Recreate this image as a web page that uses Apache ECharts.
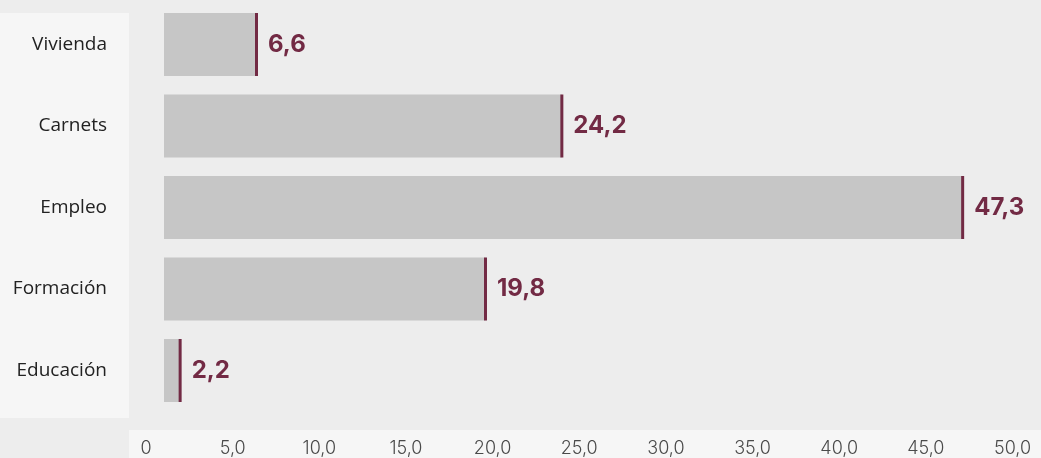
<!DOCTYPE html>
<html>
<head>
<meta charset="utf-8">
<script src="https://cdn.jsdelivr.net/npm/echarts@6/dist/echarts.min.js"></script>
<style>html,body{margin:0;padding:0;background:#ededed;}#c{width:1041px;height:458px;}</style>
</head>
<body>
<div id="c"></div>
<script>
var categories = ['Vivienda', 'Carnets', 'Empleo', 'Formación', 'Educación'];
var values = [6.6, 24.2, 47.3, 19.8, 2.2];
var tickMin = 0, tickMax = 50, tickStep = 5;

function fmt(v) { return v === 0 ? '0' : v.toFixed(1).replace('.', ','); }

var chart = echarts.init(document.getElementById('c'), null, {renderer: 'canvas'});
var gridTop = 3.75, gridBottom = 46.75, gridRight = 31.5;
chart.setOption({
  backgroundColor: '#ededed',
  animation: false,
  graphic: [
    {type: 'rect', z: -10, silent: true, shape: {x: 0, y: 13, width: 129, height: 405}, style: {fill: '#f6f6f6'}},
    {type: 'rect', z: -10, silent: true, shape: {x: 129, y: 430, width: 912, height: 28}, style: {fill: '#f6f6f6'}}
  ],
  grid: [
    {left: 164, right: gridRight, top: gridTop, bottom: gridBottom},
    {left: 146, right: gridRight - 3, top: gridTop, bottom: gridBottom}
  ],
  xAxis: [
    {type: 'value', gridIndex: 0, min: 1.27, max: tickMax, show: false, splitLine: {show: false}},
    {type: 'value', gridIndex: 1, min: tickMin, max: tickMax, interval: tickStep,
     axisLine: {show: false}, axisTick: {show: false}, splitLine: {show: false},
     axisLabel: {formatter: fmt, color: '#4a4a4a', fontFamily: 'Inter', fontWeight: 300, fontSize: 18,
                 margin: 31, verticalAlign: 'top'}}
  ],
  yAxis: [
    {type: 'category', gridIndex: 0, data: categories, inverse: true,
     axisLine: {show: false}, axisTick: {show: false}, splitLine: {show: false},
     axisLabel: {color: '#222', fontFamily: 'Open Sans', fontSize: 19, margin: 57}},
    {type: 'category', gridIndex: 1, data: categories, inverse: true, show: false}
  ],
  series: [
    {type: 'bar', xAxisIndex: 0, yAxisIndex: 0, data: values, barWidth: 63, clip: true,
     itemStyle: {color: '#c6c6c6'}, silent: true},
    {type: 'scatter', xAxisIndex: 0, yAxisIndex: 0, symbol: 'rect', symbolSize: [3, 63], silent: true,
     data: values.map(function (v, i) { return [v, categories[i]]; }),
     itemStyle: {color: '#722a44', opacity: 1},
     label: {show: true, position: 'right', distance: 10, color: '#722a44', fontFamily: 'Inter',
             fontWeight: 'bold', fontSize: 24,
             formatter: function (p) { return fmt(p.value[0]); }}}
  ]
});
</script>
</body>
</html>
